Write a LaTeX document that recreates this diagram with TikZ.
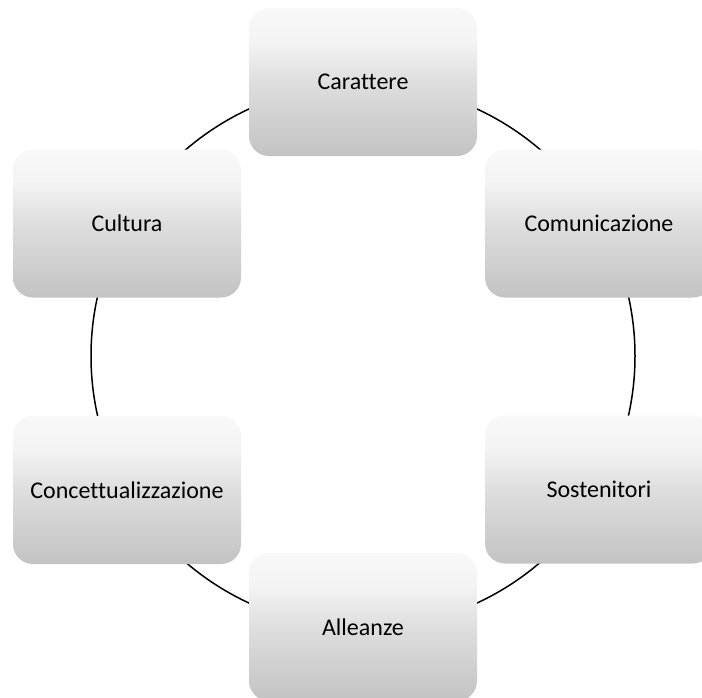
\documentclass[tikz,border=0pt]{standalone}
\usepackage{fontspec}
\setmainfont{Carlito}[Ligatures=NoCommon]
\definecolor{boxtop}{HTML}{F8F8F8}
\definecolor{boxhigh}{HTML}{F4F4F4}
\definecolor{boxmid}{HTML}{DEDEDE}
\definecolor{boxbot}{HTML}{C3C3C3}
% box gradient: 25bp = bottom edge, 75bp = top edge
\pgfdeclareverticalshading{boxshade}{100bp}{color(0bp)=(boxbot); color(25bp)=(boxbot); color(50bp)=(boxmid); color(64bp)=(boxhigh); color(75bp)=(boxtop); color(100bp)=(boxtop)}
\tikzset{
  cyclebox/.style={rectangle, rounded corners=20pt, shading=boxshade,
    minimum width=228pt, minimum height=148pt, inner sep=0pt,
    font=\fontsize{24}{28}\selectfont, text=black},
  ring/.style={draw=black, line width=1.5pt}
}
\begin{document}
\begin{tikzpicture}[x=1pt, y=-1pt]
\useasboundingbox (0,0) rectangle (702,697);
\clip (0,0) rectangle (702,697);
% the ring behind the six boxes
\coordinate (hub) at (363,356);
\draw[ring] (hub) circle (272pt);
% the six stages
\node[cyclebox] (carattere) at (363,82) {Carattere};
\node[cyclebox] (comunicazione) at (599,223.5) {Comunicazione};
\node[cyclebox] (sostenitori) at (599,489.5) {Sostenitori};
\node[cyclebox] (alleanze) at (363,627) {Alleanze};
\node[cyclebox] (concettualizzazione) at (127,490) {Concettualizzazione};
\node[cyclebox] (cultura) at (127,223.5) {Cultura};
\end{tikzpicture}
\end{document}
